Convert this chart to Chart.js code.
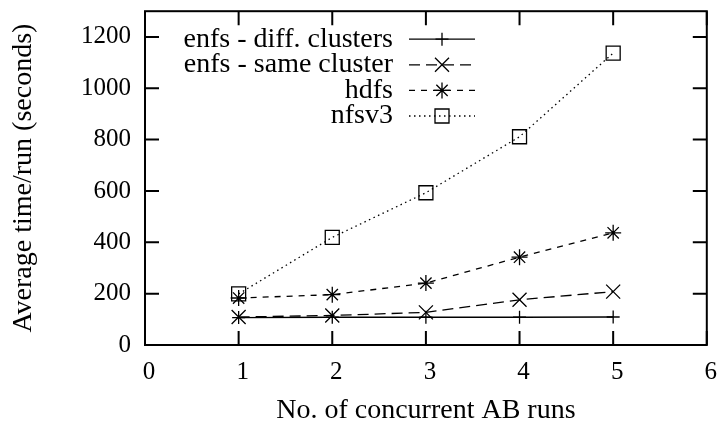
<!DOCTYPE html>
<html>
<head>
<meta charset="utf-8">
<script src="https://cdn.jsdelivr.net/npm/chart.js@4/dist/chart.umd.min.js"></script>
<style>
  html, body { margin: 0; padding: 0; background: #fff; }
  #wrap { width: 718px; height: 427px; }
</style>
</head>
<body>
<div id="wrap"><canvas id="myChart" width="718" height="427"></canvas></div>
<script>
// Dữ liệu
const runs = [1, 2, 3, 4, 5];
const enfsDiff = [107, 108, 108, 108, 109];
const enfsSame = [109, 115, 127, 176, 208];
const hdfs = [183, 196, 241, 342, 437];
const nfsv3 = [199, 419, 593, 811, 1137];
const seriesNames = ['enfs - diff. clusters', 'enfs - same cluster', 'hdfs', 'nfsv3'];
const xTicks = [0, 1, 2, 3, 4, 5, 6];
const yTicks = [0, 200, 400, 600, 800, 1000, 1200];

const serif = "'Liberation Serif', serif";

function toPoints(values) {
    return runs.map(function(r, i) { return { x: r, y: values[i] }; });
}

// Khung và vạch chia hướng vào trong
const framePlugin = {
    id: 'frame',
    afterDraw: function(chart) {
        const ctx = chart.ctx;
        const a = chart.chartArea;
        const xs = chart.scales.x, ys = chart.scales.y;
        const len = 14;
        ctx.save();
        ctx.strokeStyle = '#000';
        ctx.lineWidth = 2;
        ctx.beginPath();
        xTicks.forEach(function(v) {
            const px = xs.getPixelForValue(v);
            ctx.moveTo(px, a.bottom); ctx.lineTo(px, a.bottom - len);
            ctx.moveTo(px, a.top); ctx.lineTo(px, a.top + len);
        });
        yTicks.forEach(function(v) {
            const py = ys.getPixelForValue(v);
            ctx.moveTo(a.left, py); ctx.lineTo(a.left + len, py);
            ctx.moveTo(a.right, py); ctx.lineTo(a.right - len, py);
        });
        ctx.stroke();
        ctx.strokeRect(a.left, a.top, a.right - a.left, a.bottom - a.top);
        ctx.restore();
    }
};

// Chú thích kiểu gnuplot: chữ bên trái, mẫu đường bên phải
const keyPlugin = {
    id: 'gnuKey',
    afterDatasetsDraw: function(chart) {
        const ctx = chart.ctx;
        const a = chart.chartArea;
        const textRight = a.left + 248;
        const lineL = a.left + 264, lineR = a.left + 330;
        ctx.save();
        ctx.font = '28px ' + serif;
        ctx.textAlign = 'right';
        ctx.textBaseline = 'middle';
        chart.data.datasets.forEach(function(ds, i) {
            const y = a.top + 28 + i * 25.6;
            ctx.fillStyle = '#000';
            ctx.fillText(ds.label, textRight, y);
            ctx.strokeStyle = '#000';
            ctx.lineWidth = ds.borderWidth;
            ctx.setLineDash(ds.borderDash || []);
            ctx.beginPath();
            ctx.moveTo(lineL, y);
            ctx.lineTo(lineR, y);
            ctx.stroke();
            ctx.setLineDash([]);
            ctx.fillStyle = 'rgba(0,0,0,0)';
            ctx.lineWidth = ds.pointBorderWidth;
            Chart.helpers.drawPoint(ctx, {
                pointStyle: ds.pointStyle,
                radius: ds.pointRadius,
                rotation: 0,
                borderWidth: ds.pointBorderWidth
            }, (lineL + lineR) / 2, y);
        });
        ctx.restore();
    }
};

function makeSet(label, values, dash, style, radius) {
    return {
        label: label,
        data: toPoints(values),
        borderColor: '#000',
        backgroundColor: 'rgba(0,0,0,0)',
        borderWidth: 1.3,
        borderDash: dash,
        pointStyle: style,
        pointRadius: radius,
        pointBorderColor: '#000',
        pointBackgroundColor: 'rgba(0,0,0,0)',
        pointBorderWidth: 1.3,
        tension: 0
    };
}

const ctx = document.getElementById('myChart').getContext('2d');
new Chart(ctx, {
    type: 'line',
    data: {
        datasets: [
            makeSet(seriesNames[0], enfsDiff, [], 'cross', 6.5),
            makeSet(seriesNames[1], enfsSame, [11, 6], 'crossRot', 9.9),
            makeSet(seriesNames[2], hdfs, [6, 6], 'star', 8),
            makeSet(seriesNames[3], nfsv3, [1.5, 3.5], 'rect', 9.9)
        ]
    },
    plugins: [framePlugin, keyPlugin],
    options: {
        responsive: false,
        animation: false,
        events: [],
        layout: { padding: { top: 9, right: 7, bottom: 0, left: 0 } },
        plugins: {
            legend: { display: false },
            tooltip: { enabled: false }
        },
        scales: {
            x: {
                type: 'linear',
                min: 0,
                max: 6,
                afterBuildTicks: function(s) {
                    s.ticks = xTicks.map(function(v) { return { value: v }; });
                },
                afterFit: function(s) {
                    s.height = 82;
                    s.paddingLeft = 0;
                    s.paddingRight = 0;
                },
                grid: { display: false, drawTicks: false },
                border: { display: false },
                ticks: {
                    color: '#000',
                    font: { family: serif, size: 25 },
                    padding: 12,
                    labelOffset: 4,
                    maxRotation: 0,
                    autoSkip: false,
                    callback: function(v) { return String(v); }
                },
                title: {
                    display: true,
                    text: 'No. of concurrent AB runs',
                    color: '#000',
                    font: { family: serif, size: 28 },
                    padding: { top: 0, bottom: 0 }
                }
            },
            y: {
                type: 'linear',
                min: 0,
                max: 1300,
                afterBuildTicks: function(s) {
                    s.ticks = yTicks.map(function(v) { return { value: v }; });
                },
                afterFit: function(s) {
                    s.width = 145;
                    s.paddingTop = 0;
                    s.paddingBottom = 0;
                },
                grid: { display: false, drawTicks: false },
                border: { display: false },
                ticks: {
                    color: '#000',
                    font: { family: serif, size: 25 },
                    padding: 14,
                    autoSkip: false,
                    callback: function(v) { return String(v); }
                },
                title: {
                    display: true,
                    text: 'Average time/run (seconds)',
                    color: '#000',
                    font: { family: serif, size: 28 },
                    padding: { top: 7, bottom: 0 }
                }
            }
        }
    }
});
</script>
</body>
</html>
